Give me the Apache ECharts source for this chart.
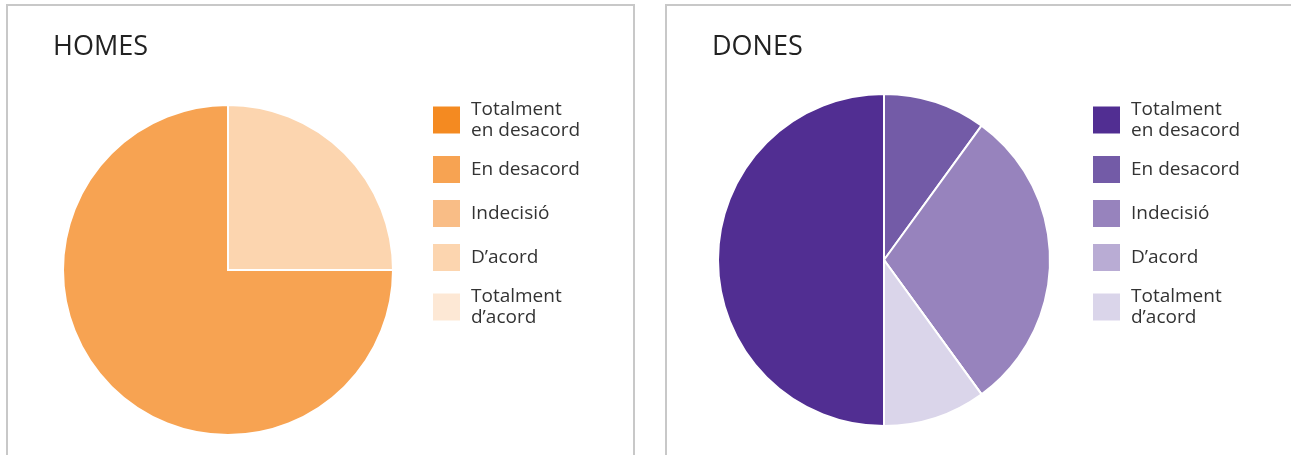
<!DOCTYPE html>
<html>
<head>
<meta charset="utf-8">
<script src="https://cdn.jsdelivr.net/npm/echarts@6/dist/echarts.min.js"></script>
<style>
  html, body { margin: 0; padding: 0; background: #fff; overflow: hidden; }
  .pie-chart { position: absolute; top: 0; height: 455px; }
  #homes { left: 0; width: 645px; }
  #dones { left: 659px; width: 632px; }
</style>
</head>
<body>
<div id="homes" class="pie-chart"></div>
<div id="dones" class="pie-chart"></div>
<script>
const categories = ['Totalment\nen desacord', 'En desacord', 'Indecisió', 'D’acord', 'Totalment\nd’acord'];
const homesValues = [0, 75, 0, 25, 0];
const donesValues = [50, 10, 30, 0, 10];
const homesColors = ['#f48a21', '#f7a352', '#f9bd86', '#fcd5af', '#fde8d5'];
const donesColors = ['#512e92', '#735ba7', '#9783bd', '#b9acd4', '#dad5ea'];

function buildOption(title, values, colors, center, radius, startAngle, legendLeft) {
    return {
        animation: false,
        color: colors,
        title: {
            text: title,
            left: 48,
            top: 29,
            textStyle: {
                fontFamily: 'Open Sans',
                fontSize: 27,
                fontWeight: 'normal',
                color: '#222'
            }
        },
        graphic: [{
            type: 'rect',
            shape: { x: 7, y: 5, width: 627, height: 520 },
            style: { fill: 'none', stroke: '#c8c8c8', lineWidth: 2 },
            silent: true
        }],
        legend: {
            orient: 'vertical',
            left: legendLeft,
            top: 99,
            padding: 0,
            itemWidth: 29,
            itemHeight: 29,
            itemGap: 13,
            icon: 'rect',
            selectedMode: false,
            data: categories,
            textStyle: {
                fontFamily: 'Open Sans',
                fontSize: 19,
                lineHeight: 21,
                color: '#333',
                padding: [0, 0, 0, 5]
            }
        },
        series: [{
            type: 'pie',
            center: center,
            radius: radius,
            startAngle: startAngle,
            clockwise: true,
            label: { show: false },
            labelLine: { show: false },
            emphasis: { disabled: true },
            itemStyle: { borderColor: '#fff', borderWidth: 2 },
            data: categories.map((name, i) => ({ name: name, value: values[i] }))
        }]
    };
}

const homesChart = echarts.init(document.getElementById('homes'));
homesChart.setOption(buildOption('HOMES', homesValues, homesColors, [228, 270], 165, 0, 431));

const donesChart = echarts.init(document.getElementById('dones'));
donesChart.setOption(buildOption('DONES', donesValues, donesColors, [225, 260], 166, -90, 432));
</script>
</body>
</html>
